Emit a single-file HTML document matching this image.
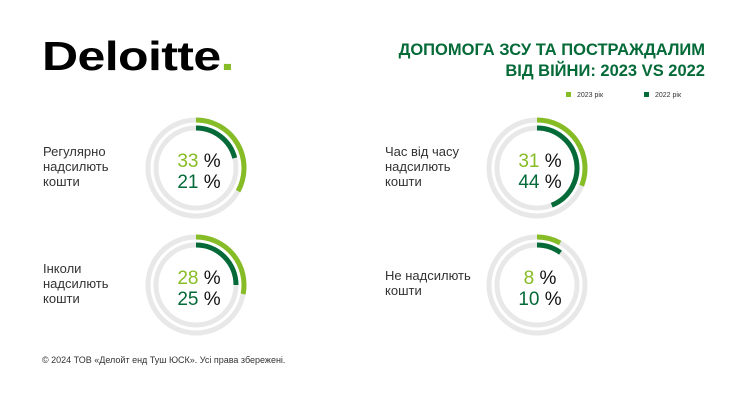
<!DOCTYPE html>
<html><head><meta charset="utf-8"><style>
body{margin:0;width:750px;height:400px;background:#fff;font-family:"Liberation Sans",sans-serif;position:relative;overflow:hidden}
.abs{position:absolute}
.lbl{font-size:13px;color:#333;line-height:15px}
</style></head><body>
<div class="abs" style="left:42px;top:33px;font-size:41px;font-weight:bold;letter-spacing:-0.5px;color:#000;transform:scaleX(1.22);transform-origin:left top">Deloitte<span style="color:#86bc25">.</span></div>
<div class="abs" style="right:45px;top:40px;text-align:right;font-size:16.5px;font-weight:bold;color:#046a38;line-height:21px">ДОПОМОГА ЗСУ ТА ПОСТРАЖДАЛИМ<br>ВІД ВІЙНИ: 2023 VS 2022</div>
<div class="abs" style="left:566px;top:92px;font-size:7px;color:#333"><span style="display:inline-block;width:5px;height:5px;background:#86bc25;margin-right:6px"></span>2023 рік</div>
<div class="abs" style="left:644px;top:92px;font-size:7px;color:#333"><span style="display:inline-block;width:5px;height:5px;background:#046a38;margin-right:6px"></span>2022 рік</div>
<svg id="svg" class="abs" style="left:0;top:0" width="750" height="400"></svg>
<div class="abs" style="left:42px;top:355px;font-size:9px;color:#333">© 2024 ТОВ «Делойт енд Туш ЮСК». Усі права збережені.</div>
<script>
const categories=["Регулярно надсилють кошти","Час від часу надсилють кошти","Інколи надсилють кошти","Не надсилють кошти"];
const labelLines=[["Регулярно","надсилють","кошти"],["Час від часу","надсилють","кошти"],["Інколи","надсилють","кошти"],["Не надсилють","кошти"]];
const values2023=[33,31,28,8];
const values2022=[21,44,25,10];
const centers=[[196,168],[537,168],[196,285],[537,285]];
const labelX=[43,385,43,385];
const svg=document.getElementById('svg');
const NS='http://www.w3.org/2000/svg';
function arc(cx,cy,r,pct){
  const a=pct/100*2*Math.PI;
  const x=cx+r*Math.sin(a),y=cy-r*Math.cos(a);
  return `M${cx} ${cy-r} A${r} ${r} 0 ${pct>50?1:0} 1 ${x} ${y}`;
}
categories.forEach((c,i)=>{
  const [cx,cy]=centers[i];
  [[48,5],[40,5]].forEach(([r,w])=>{
    const ring=document.createElementNS(NS,'circle');
    
    
    ring.setAttribute('cx',cx);ring.setAttribute('cy',cy);ring.setAttribute('r',r);
    ring.setAttribute('fill','none');ring.setAttribute('stroke','#e8e8e8');ring.setAttribute('stroke-width',w);
    svg.appendChild(ring);
  });
  const a1=document.createElementNS(NS,'path');
  
  
  a1.setAttribute('d',arc(cx,cy,48,values2023[i]));
  a1.setAttribute('fill','none');a1.setAttribute('stroke','#86bc25');a1.setAttribute('stroke-width',5);
  svg.appendChild(a1);
  const a2=document.createElementNS(NS,'path');
  
  
  a2.setAttribute('d',arc(cx,cy,40,values2022[i]));
  a2.setAttribute('fill','none');a2.setAttribute('stroke','#046a38');a2.setAttribute('stroke-width',5);
  svg.appendChild(a2);
  [[values2023[i],'#86bc25',-1],[values2022[i],'#046a38',20]].forEach(([v,col,dy],k)=>{
    const t=document.createElementNS(NS,'text');
    
    
    t.setAttribute('x',cx+3);t.setAttribute('y',cy+dy);t.setAttribute('text-anchor','middle');
    t.setAttribute('font-size','19');t.setAttribute('font-family','Liberation Sans, sans-serif');
    t.innerHTML=`<tspan fill="${col}">${v}</tspan><tspan fill="#111"> %</tspan>`;
    svg.appendChild(t);
  });
  const d=document.createElement('div');
  d.className='abs lbl';
  
  
  const n=labelLines[i].length;
  d.style.left=labelX[i]+'px';d.style.top=(cy-n*7.5-2)+'px';
  d.innerHTML=labelLines[i].join('<br>');
  document.body.appendChild(d);
});
</script>
</body></html>
